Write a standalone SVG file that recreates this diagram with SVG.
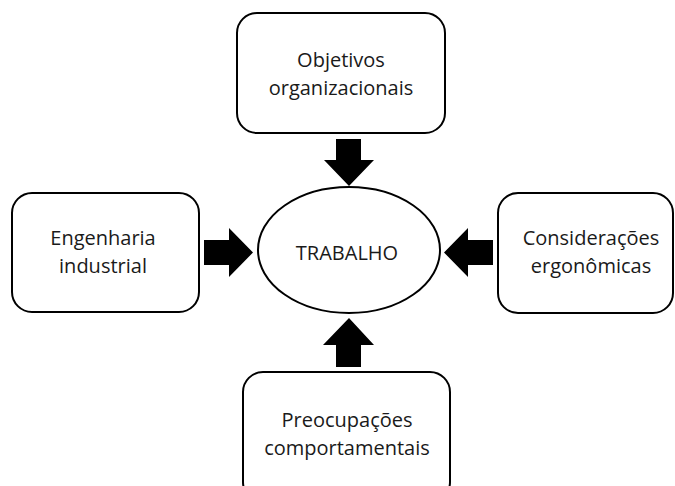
<svg xmlns="http://www.w3.org/2000/svg" width="675" height="486" viewBox="0 0 675 486">
<style>
.box{fill:#fff;stroke:#000;stroke-width:2}
.t{font-family:"Open Sans",Lato,"Liberation Sans",sans-serif;font-size:20px;fill:#1a1a1a;text-anchor:middle}
.arr{fill:#000}
</style>
<rect width="675" height="486" fill="#fff"/>
<g id="n-objetivos">
<rect class="box" x="237" y="13" width="208" height="120" rx="20"/>
<text class="t" x="341" y="67">Objetivos</text>
<text class="t" x="341" y="95">organizacionais</text>
</g>
<g id="n-engenharia">
<rect class="box" x="12" y="193" width="187" height="119" rx="20"/>
<text class="t" x="103" y="245">Engenharia</text>
<text class="t" x="103" y="273">industrial</text>
</g>
<g id="n-trabalho">
<ellipse class="box" cx="349" cy="250" rx="91" ry="63"/>
<text class="t" x="347" y="260">TRABALHO</text>
</g>
<g id="n-consideracoes">
<rect class="box" x="498" y="193" width="175" height="120" rx="20"/>
<text class="t" x="591" y="245">Considerações</text>
<text class="t" x="591" y="273">ergonômicas</text>
</g>
<g id="n-preocupacoes">
<rect class="box" x="243" y="372" width="207" height="130" rx="20"/>
<text class="t" x="347" y="427">Preocupações</text>
<text class="t" x="347" y="455">comportamentais</text>
</g>
<g id="connectors">
<polygon class="arr" points="336,139 361,139 361,160 374,160 349,186 324,160 336,160"/>
<polygon class="arr" points="204,240 229,240 229,228 253,252.5 229,277 229,265 204,265"/>
<polygon class="arr" points="493,240 468,240 468,228 444,252.5 468,277 468,265 493,265"/>
<polygon class="arr" points="336,367 361,367 361,345 374,345 349,318 323,345 336,345"/>
</g>
</svg>
